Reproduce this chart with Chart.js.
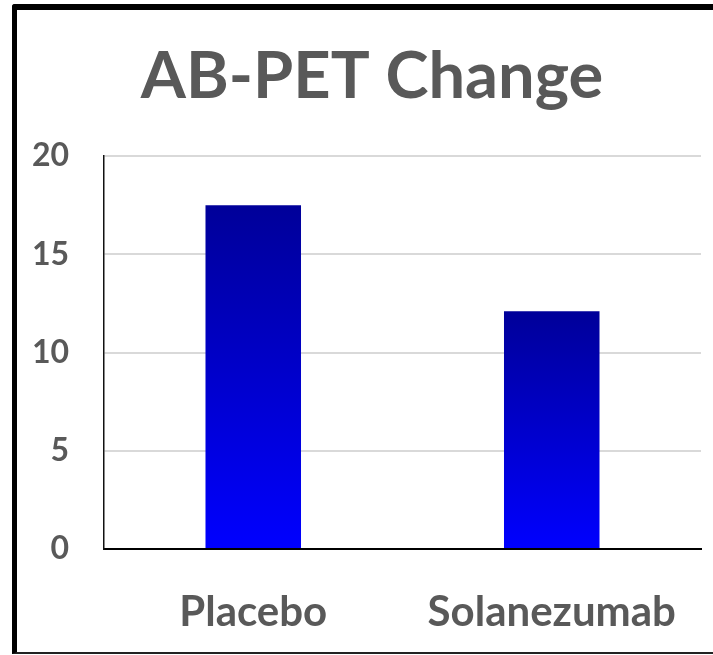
<!DOCTYPE html>
<html>
<head>
<meta charset="utf-8">
<title>AB-PET Change</title>
<script src="https://cdn.jsdelivr.net/npm/chart.js@4.4.1/dist/chart.umd.min.js"></script>
<style>
    html, body { margin: 0; padding: 0; background: #fff; overflow: hidden; }
    body { width: 713px; height: 655px; position: relative; }
    /* black frame around the slide, cut off on the right */
    .frame {
        position: absolute;
        left: 12px;
        top: 4px;
        width: 800px;
        height: 642px;
        border-left: 5px solid #000;
        border-top: 6px solid #000;
        border-bottom: 2px solid #222;
        border-top-left-radius: 3px;
    }
    .wrap { position: absolute; left: 0; top: 0; width: 713px; height: 655px; }
</style>
</head>
<body>
<div class="frame"></div>
<div class="wrap"><canvas id="chart" width="713" height="655"></canvas></div>
<script>
// Data
const categories = ['Placebo', 'Solanezumab'];
const changeValues = [17.5, 12.1];
const yTicks = [0, 5, 10, 15, 20];

const TEXT = '#595959';
const FONT = 'Lato';

// Vertical gradient for each bar: navy at the top, bright blue at the base
function barGradient(ctx) {
    const chart = ctx.chart;
    if (!chart.chartArea || !chart.scales.y) return '#0000cc';
    const y = chart.scales.y;
    const top = y.getPixelForValue(ctx.raw);
    const base = y.getPixelForValue(0);
    if (!isFinite(top) || !isFinite(base) || top === base) return '#0000cc';
    const g = chart.ctx.createLinearGradient(0, top, 0, base);
    g.addColorStop(0, '#000099');
    g.addColorStop(1, '#0000ff');
    return g;
}

// Title sits a bit right of the canvas centre, over the slide frame
const titleShift = {
    id: 'titleShift',
    afterLayout(chart) {
        if (chart.titleBlock) chart.titleBlock.left += 43;
    }
};

function initChart() {
    const ctx = document.getElementById('chart').getContext('2d');
    new Chart(ctx, {
        type: 'bar',
        data: {
            labels: categories,
            datasets: [{
                data: changeValues,
                backgroundColor: barGradient,
                borderWidth: 0,
                categoryPercentage: 1,
                barPercentage: 0.32
            }]
        },
        plugins: [titleShift],
        options: {
            responsive: false,
            animation: false,
            layout: { padding: { left: 0, right: 12, top: 0, bottom: 0 } },
            plugins: {
                legend: { display: false },
                tooltip: { enabled: false },
                title: {
                    display: true,
                    text: 'AB-PET Change',
                    color: TEXT,
                    font: { family: FONT, size: 65, weight: 'bold' },
                    padding: { top: 38, bottom: 40 }
                }
            },
            scales: {
                x: {
                    grid: { display: false, drawTicks: false },
                    border: { display: true, color: '#000', width: 2 },
                    ticks: {
                        color: TEXT,
                        font: { family: FONT, size: 42, weight: 'bold' },
                        padding: 38,
                        maxRotation: 0,
                        autoSkip: false
                    },
                    afterFit: (scale) => {
                        scale.height = 106;
                        scale.paddingLeft = 0;
                        scale.paddingRight = 0;
                    }
                },
                y: {
                    min: yTicks[0],
                    max: yTicks[yTicks.length - 1],
                    afterBuildTicks: (scale) => {
                        scale.ticks = yTicks.map(v => ({ value: v }));
                    },
                    grid: {
                        drawTicks: false,
                        color: (c) => c.tick && c.tick.value === 0 ? 'rgba(0,0,0,0)' : '#d9d9d9',
                        lineWidth: 2
                    },
                    border: { display: true, color: '#111', width: 1.5 },
                    ticks: {
                        color: TEXT,
                        font: { family: FONT, size: 32, weight: 'bold' },
                        padding: 35
                    },
                    afterFit: (scale) => { scale.width = 104; }
                }
            }
        }
    });
}

document.fonts.load('bold 65px Lato').then(initChart, initChart);
</script>
</body>
</html>
